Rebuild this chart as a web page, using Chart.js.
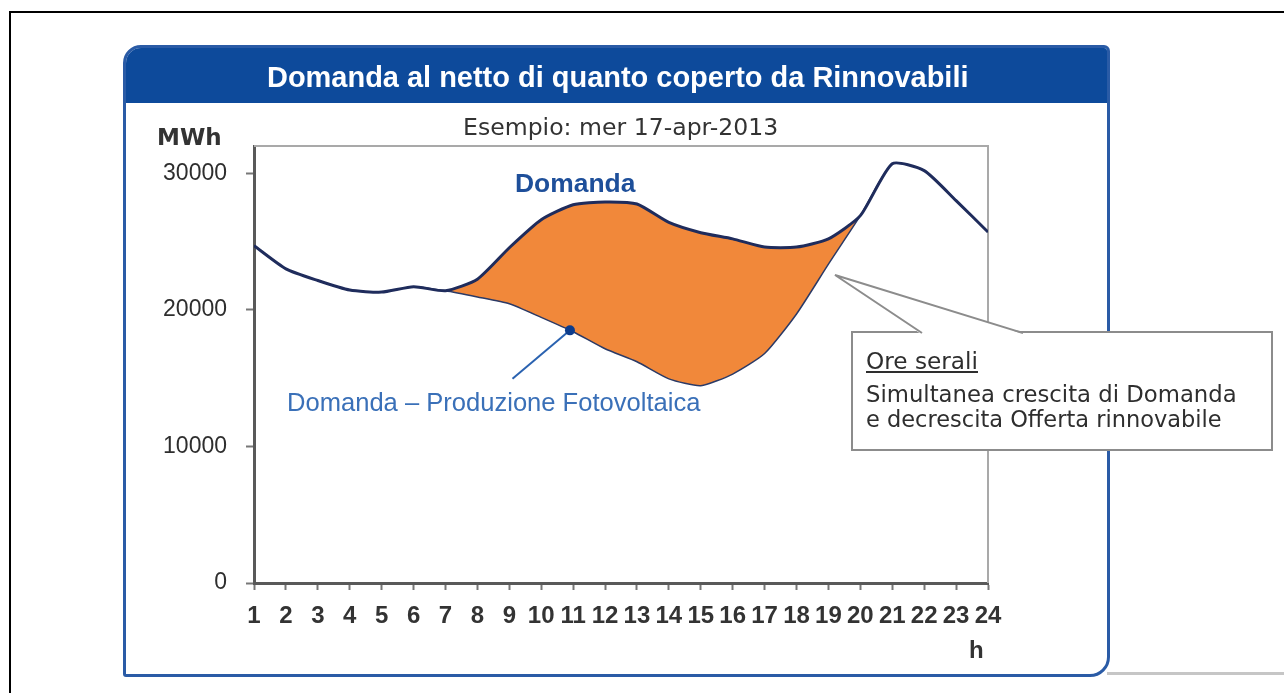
<!DOCTYPE html>
<html>
<head>
<meta charset="utf-8">
<script src="https://cdn.jsdelivr.net/npm/chart.js@4.4.1/dist/chart.umd.min.js"></script>
<style>
  html, body { margin: 0; padding: 0; background: #fff; }
  body { width: 1284px; height: 693px; position: relative; overflow: hidden; font-family: "Liberation Sans", Arial, sans-serif; }
  .abs { position: absolute; white-space: nowrap; line-height: 1; transform-origin: left top; }
  #frame { left: 9px; top: 11px; width: 1400px; height: 800px; border-left: 2px solid #000; border-top: 2px solid #000; }
  #shade { left: 1107px; top: 672px; width: 177px; height: 3px; background: #c6c6c6; }
  #panel { left: 123px; top: 45px; width: 987px; height: 632px; box-sizing: border-box; border: 3px solid #2a5ba6;
           border-radius: 18px 6px 20px 3px; overflow: hidden; background: #fff; }
  #bar { position: absolute; left: 0; top: 0; right: 0; height: 55px; background: #0d4a9b; }
  #chart { position: absolute; left: 0; top: 0; }
  #title { left: 267px; top: 63px; font-size: 29px; font-weight: bold; color: #fff; }
  #sub { left: 463px; top: 113px; font: 23.5px "DejaVu Sans", sans-serif; color: #333; }
  #unit { left: 157px; top: 124px; font: bold 23px "DejaVu Sans", sans-serif; color: #333; }
  #lblDem { left: 515px; top: 170px; font-size: 26px; font-weight: bold; color: #1e4f9a; }
  #lblNet { left: 287px; top: 390px; font-size: 25px; color: #3a70b8; }
  #lblH { left: 969px; top: 638px; font-size: 24px; font-weight: bold; color: #333; }
  #callout { position: absolute; left: 0; top: 0; }
  .note { font: 23px "DejaVu Sans", sans-serif; color: #2e2e2e; }
</style>
</head>
<body>
<div id="frame" class="abs"></div>
<div id="shade" class="abs"></div>
<div id="panel" class="abs"><div id="bar"></div></div>
<canvas id="chart" width="1284" height="693"></canvas>
<div id="title" class="abs" data-w="701">Domanda al netto di quanto coperto da Rinnovabili</div>
<div id="sub" class="abs" data-w="315">Esempio: mer 17-apr-2013</div>
<div id="unit" class="abs" data-w="65">MWh</div>
<div id="lblDem" class="abs" data-w="120">Domanda</div>
<div id="lblNet" class="abs" data-w="413">Domanda – Produzione Fotovoltaica</div>
<div id="lblH" class="abs">h</div>

<svg id="callout" width="1284" height="693">
  <rect x="852" y="332" width="420" height="118" fill="#fff" stroke="#8c8c8c" stroke-width="2"/>
  <polygon points="921,334 835,275 1024,334" fill="#fff"/>
  <polyline points="922,333 835,275 1023,333" fill="none" stroke="#8c8c8c" stroke-width="2"/>
</svg>
<div class="abs note" style="left:866px;top:348px;text-decoration:underline" data-w="112">Ore serali</div>
<div class="abs note" style="left:866px;top:381px" data-w="371">Simultanea crescita di Domanda</div>
<div class="abs note" style="left:866px;top:406px" data-w="356">e decrescita Offerta rinnovabile</div>

<script>
"use strict";

const $ = id => document.getElementById(id);

// ── Data (MWh per hour)
const hours     = [1, 2, 3, 4, 5, 6, 7, 8, 9, 10, 11, 12, 13, 14, 15, 16, 17, 18, 19, 20, 21, 22, 23, 24];
const demand    = [24700, 23000, 22150, 21450, 21300, 21700, 21400, 22250, 24550, 26600, 27700, 27900,
                   27750, 26400, 25650, 25200, 24600, 24600, 25200, 26900, 30700, 30200, 28000, 25700];
const netDemand = [24700, 23000, 22150, 21450, 21300, 21700, 21400, 20950, 20450, 19450, 18400, 17150,
                   16200, 14950, 14450, 15300, 16800, 19700, 23350, 26900, 30700, 30200, 28000, 25700];
const yTicks    = [0, 10000, 20000, 30000];

// ── Label pointer (dot on the net curve, leader line to its label)
const markerX  = [10.9];
const markerY  = [18500];
const pointerX = [10.9, 9.1];
const pointerY = [18500, 14950];

// ── Colours
const NAVY   = "#1f2c5c";
const ORANGE = "#f1883a";
const AXIS   = "#595959";

const pts = (xs, ys) => xs.map((x, i) => ({ x, y: ys[i] }));

// ── Thin frame on top / right of the plot
const plotFrame = {
  id: "plotFrame",
  beforeDatasetsDraw(chart) {
    const { ctx, chartArea: a } = chart;
    ctx.save();
    ctx.strokeStyle = "#a9a9a9";
    ctx.lineWidth = 2;
    ctx.beginPath();
    ctx.moveTo(a.left, a.top);
    ctx.lineTo(a.right, a.top);
    ctx.lineTo(a.right, a.bottom);
    ctx.stroke();
    ctx.restore();
  }
};

new Chart($("chart"), {
  type: "line",
  data: {
    datasets: [
      { data: pts(hours, demand), borderColor: NAVY, borderWidth: 3, pointRadius: 0, tension: 0.2,
        fill: "+1", backgroundColor: ORANGE },
      { data: pts(hours, netDemand), borderColor: "#2b3a66", borderWidth: 1.5, pointRadius: 0, tension: 0.2, fill: false },
      { data: pts(pointerX, pointerY), borderColor: "#2a62b0", borderWidth: 2, pointRadius: 0, fill: false },
      { data: pts(markerX, markerY), showLine: false, pointRadius: 5, pointBackgroundColor: "#0d3c8c",
        pointBorderWidth: 0, order: -1 },
    ]
  },
  options: {
    responsive: false,
    animation: false,
    events: [],
    layout: { padding: { left: 0, top: 146, right: 296, bottom: 50 } },
    plugins: {
      legend: { display: false },
      tooltip: { enabled: false },
      filler: { drawTime: "beforeDatasetsDraw" },
    },
    scales: {
      x: {
        type: "linear", min: 1, max: 24,
        afterBuildTicks: s => { s.ticks = hours.map(v => ({ value: v })); },
        afterFit: s => { s.height = 60; },
        ticks: { autoSkip: false, maxRotation: 0, padding: 12, color: "#333",
                 callback: v => String(v),
                 font: { family: "Liberation Sans", size: 24, weight: "bold" } },
        grid: { drawOnChartArea: false, drawTicks: true, tickLength: 7, tickColor: "#777", tickWidth: 2 },
        border: { display: true, color: AXIS, width: 3 },
      },
      y: {
        min: 0, max: 32000,
        afterBuildTicks: s => { s.ticks = yTicks.map(v => ({ value: v })); },
        afterFit: s => { s.width = 254; },
        ticks: { padding: 19, color: "#2e2e2e", callback: v => String(v),
                 font: { family: "Liberation Sans", size: 23 } },
        grid: { drawOnChartArea: false, drawTicks: true, tickLength: 8, tickColor: "#777", tickWidth: 2 },
        border: { display: true, color: AXIS, width: 3 },
      },
    },
  },
  plugins: [plotFrame],
});

// ── Stretch the html labels to the widths seen in the picture
document.querySelectorAll("[data-w]").forEach(el => {
  el.style.transform = `scaleX(${el.dataset.w / el.offsetWidth})`;
});
</script>
</body>
</html>
